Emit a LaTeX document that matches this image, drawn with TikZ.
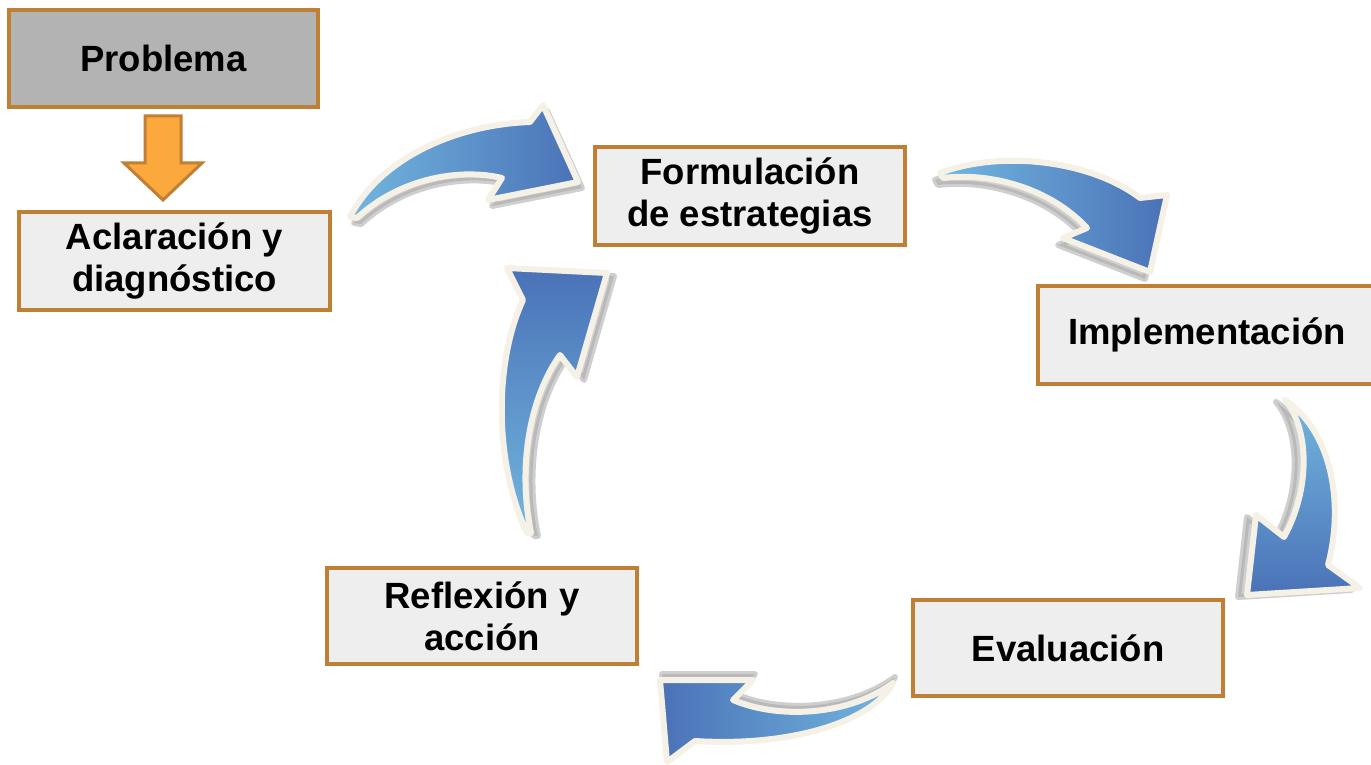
\documentclass[tikz,border=0pt]{standalone}
\usepackage{fontspec}
\setmainfont{Liberation Sans}
\begin{document}
\begin{tikzpicture}[x=1pt,y=-1pt,
  box/.style={draw=boxline, line width=4pt, fill=boxfill, minimum width=310pt, minimum height=96pt,
    align=center, inner sep=0pt, font=\fontsize{36.5}{42}\selectfont\bfseries},
  arrowbody/.style={draw=cream, line width=6pt, line join=round},
  arrowshadow/.style={fill=shadowgray, draw=shadowgray, line width=6pt, line join=round, opacity=0.55}]
\definecolor{boxline}{HTML}{BF7F35}
\definecolor{boxfill}{HTML}{EEEEEE}
\definecolor{probfill}{HTML}{B3B3B3}
\definecolor{orangefill}{HTML}{FBA83C}
\definecolor{bluedark}{HTML}{4A72B7}
\definecolor{bluelight}{HTML}{72B6DF}
\definecolor{cream}{HTML}{F5F1E6}
\definecolor{shadowgray}{HTML}{A8A8A8}
\useasboundingbox (0,0) rectangle (1371,765);
\fill[white] (0,0) rectangle (1371,765);

% boxes
\node[box, fill=probfill, minimum width=309pt, minimum height=97pt] (prob) at (163.5,58.5) {Problema};
\node[box, minimum width=311pt, minimum height=98pt] (acl) at (174.5,261) {Aclaración y\\diagnóstico};
\node[box, minimum height=97pt] (form) at (750,196) {Formulación\\de estrategias};
\node[box, minimum width=338pt, minimum height=98pt] (impl) at (1207,334.5) {Implementación};
\node[box] (eval) at (1068,648) {Evaluación};
\node[box] (refl) at (482,616) {Reflexión y\\acción};

% orange block arrow
\draw[boxline, line width=3pt, fill=orangefill, line join=miter]
  (145,116) -- (181,116) -- (181,163) -- (202,163) -- (163,200) -- (124,163) -- (145,163) -- cycle;

% arrow 1: Aclaracion -> Formulacion
\path[arrowshadow, shift={(4,6)}]
  (350,217) .. controls (378,162) and (450,125) .. (530,122) -- (543,105) -- (578,182) -- (488,200) -- (502,178)
  .. controls (460,168) and (400,178) .. (357,218) -- cycle;
\path[arrowbody, left color=bluelight, right color=bluedark]
  (350,217) .. controls (378,162) and (450,125) .. (530,122) -- (543,105) -- (578,182) -- (488,200) -- (502,178)
  .. controls (460,168) and (400,178) .. (357,218) -- cycle;

% arrow 2: Formulacion -> Implementacion
\path[arrowshadow, shift={(-5,7)}]
  (940,173) .. controls (1000,150) and (1090,160) .. (1140,198) -- (1167,195) -- (1150,272) -- (1063,238) -- (1087,228)
  .. controls (1050,188) and (990,172) .. (943,178) -- cycle;
\path[arrowbody, left color=bluelight, right color=bluedark]
  (940,173) .. controls (1000,150) and (1090,160) .. (1140,198) -- (1167,195) -- (1150,272) -- (1063,238) -- (1087,228)
  .. controls (1050,188) and (990,172) .. (943,178) -- cycle;

% arrow 3: Implementacion -> Evaluacion
\path[arrowshadow, shift={(-9,2)}]
  (1285,400) .. controls (1330,430) and (1345,500) .. (1328,565) -- (1360,588) -- (1247,595) -- (1256,515) -- (1284,537)
  .. controls (1310,490) and (1310,430) .. (1285,400) -- cycle;
\path[arrowbody, top color=bluelight, bottom color=bluedark]
  (1285,400) .. controls (1330,430) and (1345,500) .. (1328,565) -- (1360,588) -- (1247,595) -- (1256,515) -- (1284,537)
  .. controls (1310,490) and (1310,430) .. (1285,400) -- cycle;

% arrow 4: Evaluacion -> Reflexion
\path[arrowshadow, shift={(2,-6)}]
  (893,683) .. controls (872,722) and (790,747) .. (695,741) -- (667,762) -- (660,680) -- (753,680) -- (733,700)
  .. controls (780,720) and (850,715) .. (893,683) -- cycle;
\path[arrowbody, left color=bluedark, right color=bluelight]
  (893,683) .. controls (872,722) and (790,747) .. (695,741) -- (667,762) -- (660,680) -- (753,680) -- (733,700)
  .. controls (780,720) and (850,715) .. (893,683) -- cycle;

% arrow 5: Reflexion -> Formulacion
\path[arrowshadow, shift={(7,3)}]
  (527,533) .. controls (493,460) and (495,360) .. (523,300) -- (507,268) -- (607,273) -- (577,377) -- (560,355)
  .. controls (528,400) and (518,470) .. (531,533) -- cycle;
\path[arrowbody, bottom color=bluelight, top color=bluedark]
  (527,533) .. controls (493,460) and (495,360) .. (523,300) -- (507,268) -- (607,273) -- (577,377) -- (560,355)
  .. controls (528,400) and (518,470) .. (531,533) -- cycle;
\end{tikzpicture}
\end{document}
